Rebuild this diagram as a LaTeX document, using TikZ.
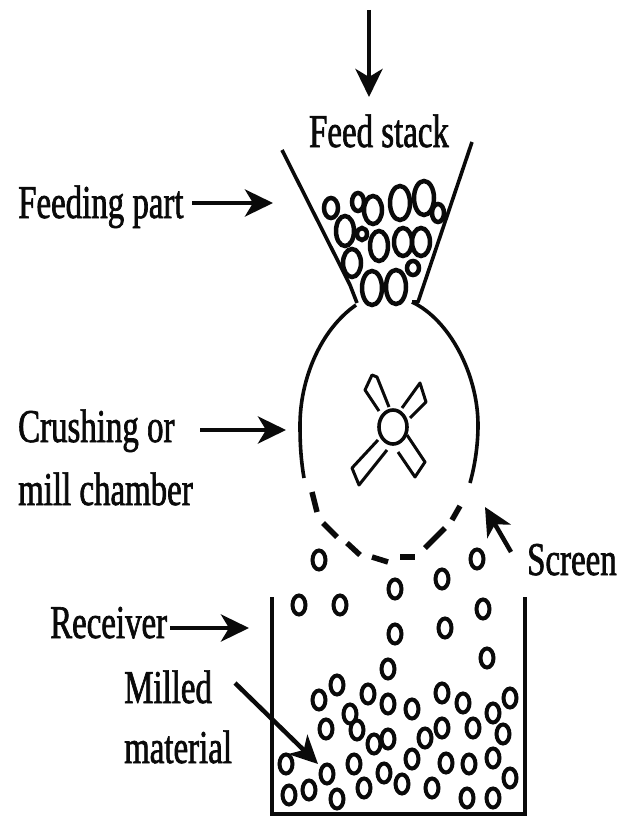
\documentclass[tikz,border=0pt]{standalone}
\usepackage{xcolor}
\usepackage{fontspec}
\newfontfamily\labelfont{Liberation Serif}[FakeStretch=0.7,RawFeature={embolden=1.4}]
\usetikzlibrary{arrows.meta,positioning,calc}
\definecolor{inkBlack}{HTML}{0A0A0A}
\begin{document}
\begin{tikzpicture}[
  x=1pt, y=-1pt,
  label/.style={font=\labelfont\fontsize{47}{50}\selectfont, text=inkBlack, inner sep=0pt, anchor=base west},
  pointer/.style={-{Stealth[length=28pt,width=27pt,inset=8pt]}, draw=inkBlack, line width=4.5pt},
  wall/.style={draw=inkBlack, line width=3.6pt},
  screen/.style={draw=inkBlack, line width=5.5pt},
  grain/.style={draw=inkBlack, line width=4pt},
  feedgrain/.style={draw=inkBlack, line width=4.5pt},
  blade/.style={draw=inkBlack, line width=3pt, line join=round}
]
\useasboundingbox (0,0) rectangle (631,816);
% labels
\node[label, anchor=base] (feed) at (379,147) {Feed stack};
\node[label] (feeding) at (18,218) {Feeding part};
\node[label] (crushing) at (18,442) {Crushing or};
\node[label] (chamber) at (18,505) {mill chamber};
\node[label] (screenlab) at (527,575) {Screen};
\node[label] (receiver) at (50,638) {Receiver};
\node[label] (milled) at (124,703) {Milled};
\node[label] (material) at (124,763) {material};
% arrow ends
\coordinate (topstart) at (369,10);
\coordinate (feedtip) at (369,97);
\coordinate (feedingtip) at (273,203);
\coordinate (crushingtip) at (286,430);
\coordinate (screentail) at (511,552);
\coordinate (screentip) at (485,507);
\coordinate (receivertip) at (249,628);
\coordinate (milledtail) at (235,683);
\coordinate (milledtip) at (318,764);
\draw[pointer] (topstart) -- (feedtip);
\draw[pointer] (192,203) -- (feedingtip);
\draw[pointer] (200,430) -- (crushingtip);
\draw[pointer] (screentail) -- (screentip);
\draw[pointer] (170,628) -- (receivertip);
\draw[pointer] (milledtail) -- (milledtip);
% hopper
\draw[wall, line join=round] (282,150) -- (350,285) -- (357,303);
\draw[wall, line join=round] (472,142) -- (418,302) -- (412,302);
% chamber
\draw[wall] (356,305) .. controls (320,330) and (300,380) .. (300,425) .. controls (300,445) and (301,460) .. (304,478);
\draw[wall] (412,302) .. controls (450,320) and (478,375) .. (478,425) .. controls (478,445) and (475,465) .. (470,483);
\foreach \xa/\ya/\xb/\yb in {312/492/317/512, 323/523/337/537, 347/543/360/555, 372/557/388/562, 400/557/415/557, 425/548/445/528, 452/520/460/506}
  \draw[screen] (\xa,\ya) -- (\xb,\yb);
% rotor
\draw[blade] (379,411) -- (365,390) -- (372,375) -- (377,377) -- (389,407);
\draw[blade] (402,408) -- (420,383) -- (426,402) -- (410,418);
\draw[blade] (378,440) -- (352,468) -- (359,485) -- (387,450);
\draw[blade] (398,452) -- (415,477) -- (425,462) -- (407,435);
\draw[wall] (393,427) ellipse [x radius=14pt, y radius=17pt];
% feed stock
\foreach \cx/\cy/\rx/\ry in {331/208/7/10, 358/202/6/9, 373/210/9/14, 400/203/10/17, 424/198/10/17, 438/213/6/9, 345/231/9/15, 362/234/5/6, 379/246/9/15, 403/242/9/14, 421/242/9/14, 352/263/9/14, 413/268/6/7, 372/288/10/17, 396/287/10/17}
  \draw[feedgrain] (\cx,\cy) ellipse [x radius=\rx pt, y radius=\ry pt];
% receiver
\draw[wall] (272,597) -- (272,814) -- (525,814) -- (525,597);
% milled material
\foreach \cx/\cy in {319/560, 299/605, 340/605, 395/589, 442/579, 477/559, 483/609, 395/634, 445/628, 487/658, 388/669, 337/685, 319/700, 368/694, 388/704, 412/709, 442/693, 463/703, 510/698, 493/713, 350/714, 326/729, 357/730, 374/744, 388/739, 425/738, 442/728, 473/728, 503/734, 286/764, 327/774, 354/764, 384/773, 412/759, 446/763, 469/764, 493/758, 510/778, 289/795, 309/790, 337/799, 364/788, 402/784, 432/788, 467/798, 493/798}
  \draw[grain] (\cx,\cy) ellipse [x radius=6.5pt, y radius=9.5pt];
\end{tikzpicture}
\end{document}
